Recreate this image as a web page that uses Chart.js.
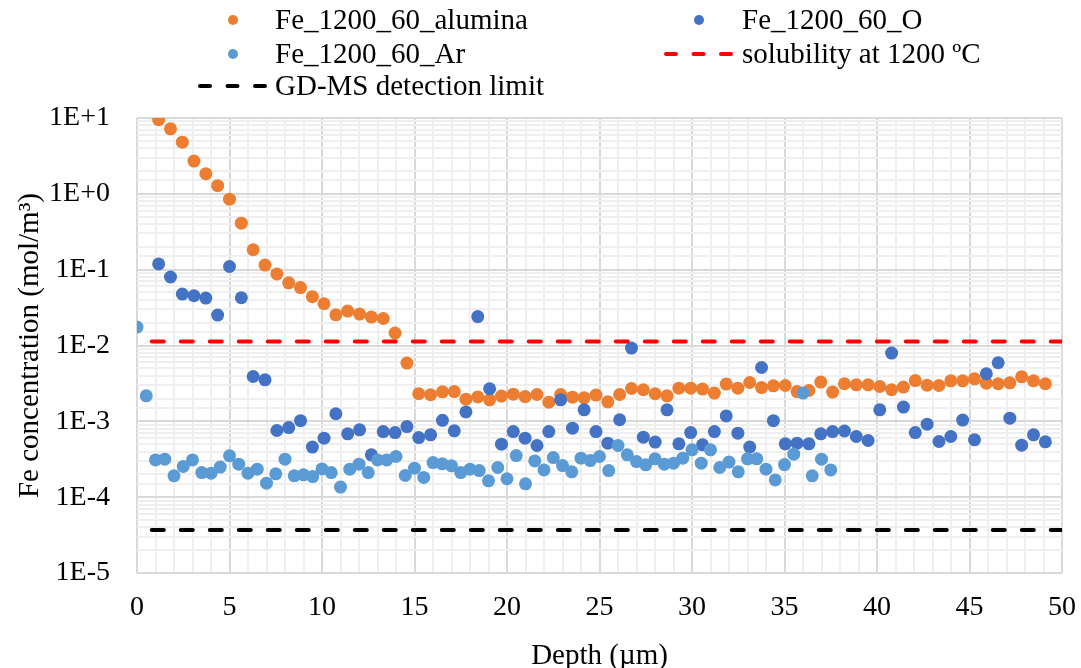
<!DOCTYPE html>
<html>
<head>
<meta charset="utf-8">
<script src="https://cdn.jsdelivr.net/npm/chart.js@4.4.1/dist/chart.umd.min.js"></script>
<style>
  html, body { margin: 0; padding: 0; background: #fff; }
  #wrap { position: relative; width: 1081px; height: 668px; font-family: "Liberation Serif", "Times New Roman", serif; }
  #feChart { position: absolute; left: 0; top: 0; }
  .leg { position: absolute; height: 32px; line-height: 32px; font-size: 29px; color: #000; white-space: nowrap; }
  .leg svg { position: absolute; left: 0; top: 0; }
  .leg span { position: absolute; top: 0; }
</style>
</head>
<body>
<div id="wrap">
  <canvas id="feChart" width="1081" height="668"></canvas>
  <div id="legend"></div>
</div>
<script>
// depth (µm) of each measurement
const depthSample = [1.17, 1.81, 2.45, 3.08, 3.72, 4.36, 5.00, 5.64, 6.28, 6.92,
  7.56, 8.20, 8.84, 9.48, 10.11, 10.75, 11.39, 12.03, 12.67, 13.31,
  13.95, 14.59, 15.23, 15.87, 16.51, 17.15, 17.78, 18.42, 19.06, 19.70,
  20.34, 20.98, 21.62, 22.26, 22.90, 23.54, 24.17, 24.81, 25.45, 26.09,
  26.73, 27.37, 28.01, 28.65, 29.29, 29.93, 30.57, 31.21, 31.85, 32.48,
  33.12, 33.76, 34.40, 35.04, 35.68, 36.32, 36.96, 37.60, 38.24, 38.88,
  39.52, 40.15, 40.79, 41.43, 42.07, 42.71, 43.35, 43.99, 44.63, 45.27,
  45.91, 46.55, 47.18, 47.82, 48.46, 49.10];
const depthAr = [0, 0.5, 1, 1.5, 2, 2.5, 3, 3.5, 4, 4.5,
  5, 5.5, 6, 6.5, 7, 7.5, 8, 8.5, 9, 9.5,
  10, 10.5, 11, 11.5, 12, 12.5, 13, 13.5, 14, 14.5,
  15, 15.5, 16, 16.5, 17, 17.5, 18, 18.5, 19, 19.5,
  20, 20.5, 21, 21.5, 22, 22.5, 23, 23.5, 24, 24.5,
  25, 25.5, 26, 26.5, 27, 27.5, 28, 28.5, 29, 29.5,
  30, 30.5, 31, 31.5, 32, 32.5, 33, 33.5, 34, 34.5,
  35, 35.5, 36, 36.5, 37, 37.5];

// Fe concentration (mol/m3)
const feAlumina = [9.5, 7.2, 4.8, 2.7, 1.84, 1.28, 0.85, 0.41, 0.183, 0.115,
  0.088, 0.067, 0.058, 0.044, 0.0355, 0.0254, 0.0284, 0.026, 0.0237, 0.0227,
  0.0146, 0.00586, 0.00231, 0.00224, 0.00245, 0.00247, 0.00196, 0.0021, 0.00192, 0.00215,
  0.00228, 0.00212, 0.00226, 0.00179, 0.00226, 0.00208, 0.00204, 0.00222, 0.00181, 0.00226,
  0.00271, 0.00261, 0.00231, 0.00217, 0.00274, 0.00274, 0.00266, 0.00236, 0.0031, 0.00274,
  0.00325, 0.00279, 0.00294, 0.00297, 0.00247, 0.00255, 0.00329, 0.00243, 0.00313, 0.00303,
  0.00303, 0.00288, 0.00261, 0.00283, 0.00345, 0.003, 0.00297, 0.00342, 0.00342, 0.00364,
  0.00319, 0.00313, 0.00322, 0.00386, 0.00342, 0.00313];
const feO = [0.119, 0.080, 0.0476, 0.0453, 0.0422, 0.0252, 0.110, 0.0426, 0.0039, 0.00353,
  0.000757, 0.000828, 0.00102, 0.000457, 0.0006, 0.00126, 0.000684, 0.000773, 0.000362, 0.000733,
  0.000711, 0.000853, 0.000611, 0.000663, 0.00103, 0.00075, 0.00133, 0.0241, 0.00269, 0.0005,
  0.000733, 0.0006, 0.00048, 0.000733, 0.00192, 0.000813, 0.00142, 0.000733, 0.000515, 0.00105,
  0.00925, 0.000619, 0.000532, 0.00142, 0.000505, 0.000711, 0.00049, 0.000733, 0.00118, 0.000698,
  0.000457, 0.00513, 0.00102, 0.000505, 0.000515, 0.000505, 0.000684, 0.000733, 0.000746, 0.000631,
  0.000559, 0.00142, 0.00794, 0.00154, 0.000711, 0.000918, 0.000542, 0.000631, 0.00104, 0.00057,
  0.00424, 0.00592, 0.0011, 0.000485, 0.000663, 0.000537];
const feAr = [0.0175, 0.00217, 0.00031, 0.000317, 0.000191, 0.000254, 0.00031, 0.000211, 0.000207, 0.000249,
  0.000351, 0.000272, 0.000207, 0.000234, 0.000153, 0.000203, 0.000317, 0.000191, 0.000197, 0.000187,
  0.000236, 0.000211, 0.000136, 0.000234, 0.000272, 0.000211, 0.00031, 0.00031, 0.000344, 0.000193,
  0.000241, 0.000182, 0.000286, 0.000275, 0.000259, 0.000211, 0.000234, 0.000224, 0.000164, 0.000246,
  0.000175, 0.000354, 0.00015, 0.000301, 0.000229, 0.000333, 0.000261, 0.000216, 0.000327, 0.000304,
  0.000344, 0.000224, 0.00048, 0.000362, 0.000295, 0.000267, 0.00032, 0.000272, 0.000281, 0.000327,
  0.000421, 0.000281, 0.000421, 0.000246, 0.00029, 0.000216, 0.00032, 0.00032, 0.000234, 0.000169,
  0.000269, 0.000369, 0.00236, 0.000191, 0.000317, 0.000229];

// reference lines
const solubility1200 = 0.0113;
const detectionLimit = 3.7e-5;
const refLineDepth = [0.8, 50];

const seriesNames = ['Fe_1200_60_alumina', 'Fe_1200_60_O', 'Fe_1200_60_Ar',
  'solubility at 1200 ºC', 'GD-MS detection limit'];

const FONT = '"Liberation Serif", "Times New Roman", serif';
const cOrange = '#ED7D31', cBlue = '#4472C4', cLight = '#5B9BD5';

function pts(xs, ys) {
  return ys.map((y, i) => ({ x: xs[i], y: y }));
}
function hline(v) {
  return refLineDepth.map(x => ({ x: x, y: v }));
}
function isDecade(v) {
  const e = Math.log10(v);
  return Math.abs(e - Math.round(e)) < 1e-6;
}

function dots(label, data, color, order) {
  return {
    label: label, data: data, order: order,
    backgroundColor: color, borderColor: color,
    pointRadius: 6.5, pointHoverRadius: 6.5, pointBorderWidth: 0
  };
}
function dashed(label, data, color, order) {
  return {
    label: label, data: data, order: order, showLine: true,
    borderColor: color, borderWidth: 4, borderDash: [12, 17],
    borderCapStyle: 'round', pointRadius: 0, pointHoverRadius: 0
  };
}

const ctx = document.getElementById('feChart').getContext('2d');
const feChart = new Chart(ctx, {
  type: 'scatter',
  data: {
    datasets: [
      dots(seriesNames[0], pts(depthSample, feAlumina), cOrange, 5),
      dots(seriesNames[1], pts(depthSample, feO), cBlue, 4),
      dots(seriesNames[2], pts(depthAr, feAr), cLight, 3),
      dashed(seriesNames[3], hline(solubility1200), '#FF0000', 2),
      dashed(seriesNames[4], hline(detectionLimit), '#000000', 1)
    ]
  },
  options: {
    responsive: false,
    animation: false,
    layout: { padding: { top: 118, right: 19, bottom: 0, left: 0 } },
    plugins: { legend: { display: false }, tooltip: { enabled: false } },
    scales: {
      x: {
        type: 'linear', min: 0, max: 50,
        ticks: {
          stepSize: 1, autoSkip: false, maxRotation: 0, minRotation: 0,
          padding: 18, color: '#000', font: { family: FONT, size: 28 },
          callback: v => (v % 5 === 0 ? String(v) : '')
        },
        grid: {
          drawTicks: false, lineWidth: 2,
          color: c => (c.tick && c.tick.value % 5 === 0 ? '#d9d9d9' : '#efefef')
        },
        border: { display: false },
        title: {
          display: true, text: 'Depth (µm)', color: '#000',
          font: { family: FONT, size: 29, lineHeight: 0.8 }, padding: 0
        },
        afterFit: s => { s.height = 95; s.paddingLeft = 0; s.paddingRight = 0; }
      },
      y: {
        type: 'logarithmic', min: 1e-5, max: 10,
        ticks: {
          autoSkip: false, padding: 27, color: '#000', font: { family: FONT, size: 28 },
          callback: v => {
            if (!isDecade(v)) return '';
            const e = Math.round(Math.log10(v));
            return '1E' + (e >= 0 ? '+' : '-') + Math.abs(e);
          }
        },
        grid: {
          drawTicks: false, lineWidth: 2,
          color: c => (c.tick && isDecade(c.tick.value) ? '#d9d9d9' : '#efefef')
        },
        border: { display: false },
        title: {
          display: true, text: 'Fe concentration (mol/m³)', color: '#000',
          font: { family: FONT, size: 29 }, padding: { top: 13, bottom: 0 }
        },
        afterFit: s => { s.width = 137; }
      }
    }
  }
});

// legend: two columns, three rows
const legendSlots = [
  { col: 0, row: 0 }, { col: 1, row: 0 }, { col: 0, row: 1 }, { col: 1, row: 1 }, { col: 0, row: 2 }
];
const colSym = [198, 664], colText = [275, 742], rowTop = [3, 37, 69];
const legendBox = document.getElementById('legend');
feChart.data.datasets.forEach((ds, i) => {
  const slot = legendSlots[i];
  const item = document.createElement('div');
  item.className = 'leg';
  item.style.left = colSym[slot.col] + 'px';
  item.style.top = rowTop[slot.row] + 'px';
  let sym;
  if (ds.showLine) {
    sym = '<svg width="72" height="32"><line x1="2" y1="17" x2="70" y2="17" stroke="' + ds.borderColor +
      '" stroke-width="4" stroke-linecap="round" stroke-dasharray="10 17.5"/></svg>';
  } else {
    sym = '<svg width="72" height="32"><circle cx="35" cy="17" r="5" fill="' + ds.backgroundColor + '"/></svg>';
  }
  item.innerHTML = sym + '<span style="left:' + (colText[slot.col] - colSym[slot.col]) + 'px">' + ds.label + '</span>';
  legendBox.appendChild(item);
});
</script>
</body>
</html>
